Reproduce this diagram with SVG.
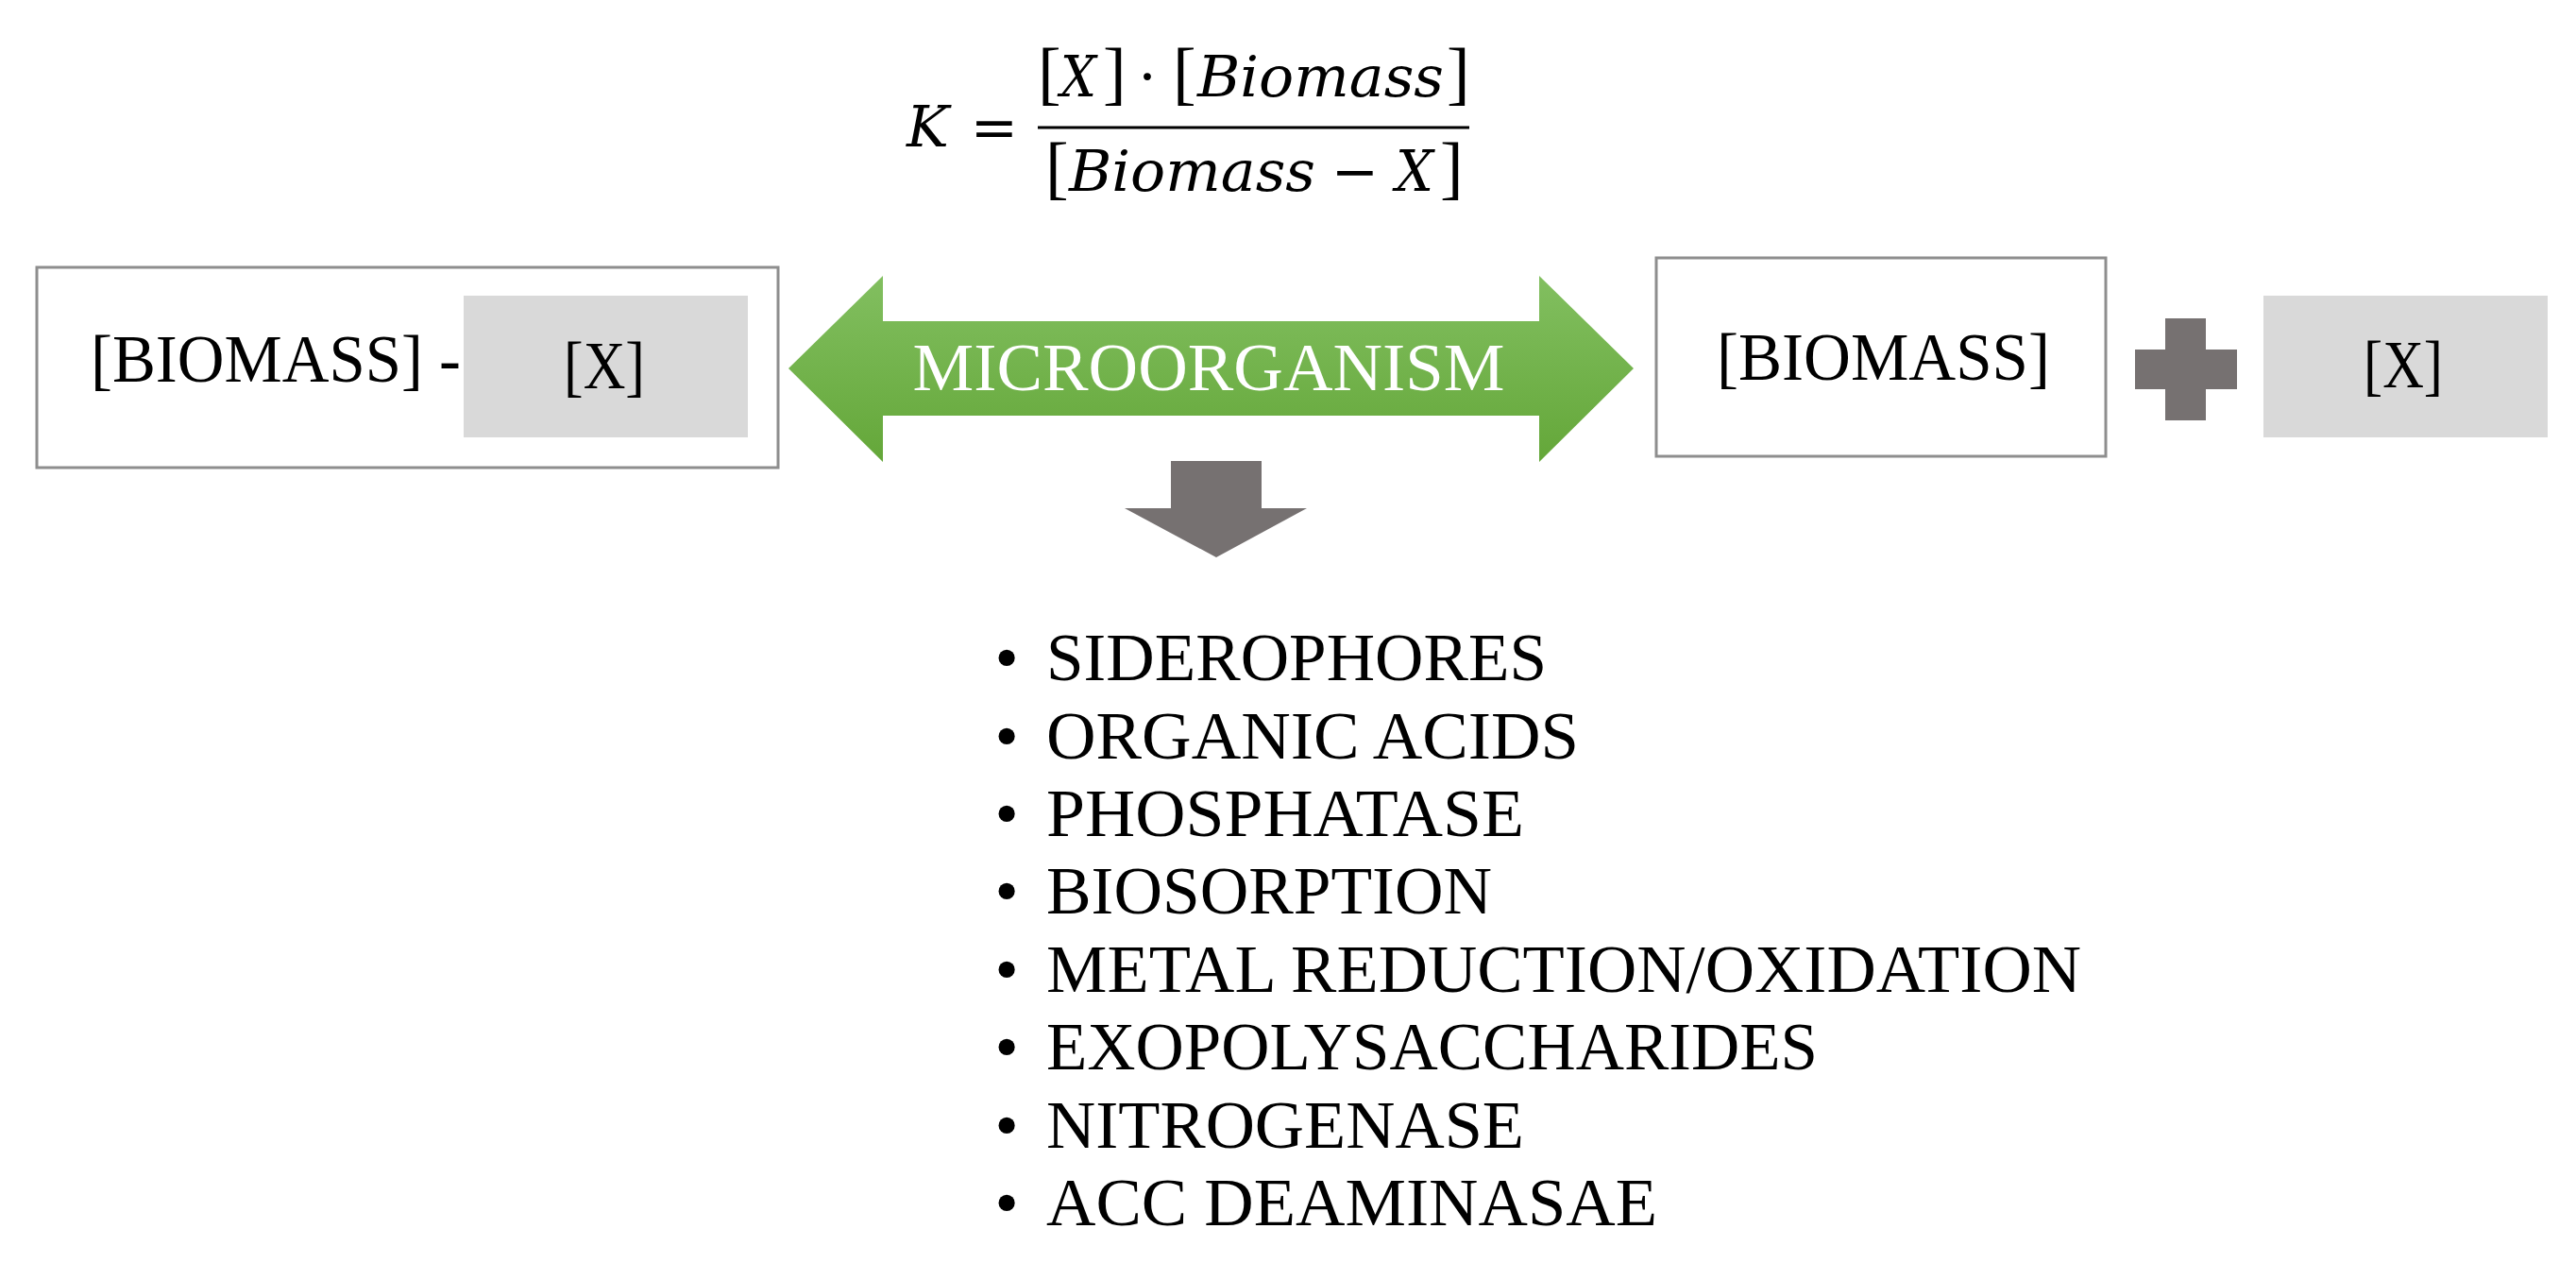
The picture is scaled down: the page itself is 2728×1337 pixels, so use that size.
<svg xmlns="http://www.w3.org/2000/svg" width="2728" height="1337" viewBox="0 0 2728 1337">
<style>
.t{font-family:"Liberation Serif","Times New Roman",serif;font-size:72px;fill:#000}
.m{font-family:"DejaVu Serif","Liberation Serif",serif;font-size:60px;fill:#000}
.br{font-family:"Liberation Serif","Times New Roman",serif;font-size:74px;fill:#000}
.mi{font-style:italic}
.box{fill:#fff;stroke:#8e8e8e;stroke-width:3}
.gray{fill:#d9d9d9}
.dark{fill:#767171}
</style>
<defs>
<linearGradient id="g" x1="0" y1="0" x2="0" y2="1">
<stop offset="0" stop-color="#82bf60"/>
<stop offset="1" stop-color="#64a739"/>
</linearGradient>
</defs>
<rect width="2728" height="1337" fill="#fff"/>
<g id="formula">
<text class="m mi" x="960" y="155">K</text>
<text class="m" x="1053" y="155" text-anchor="middle">=</text>
<text class="br" x="1099" y="102">[</text>
<text class="m mi" x="1123" y="102" textLength="38" lengthAdjust="spacingAndGlyphs">X</text>
<text class="br" x="1168" y="102">]</text>
<text class="m" x="1215" y="102" text-anchor="middle">·</text>
<text class="br" x="1242" y="102">[</text>
<text class="m mi" x="1268" y="102" textLength="261" lengthAdjust="spacingAndGlyphs">Biomass</text>
<text class="br" x="1532" y="102">]</text>
<line x1="1099" y1="135" x2="1556" y2="135" stroke="#000" stroke-width="3"/>
<text class="br" x="1107" y="202">[</text>
<text class="m mi" x="1132" y="202" textLength="261" lengthAdjust="spacingAndGlyphs">Biomass</text>
<text class="m" x="1435" y="202" text-anchor="middle">−</text>
<text class="m mi" x="1478" y="202" textLength="40" lengthAdjust="spacingAndGlyphs">X</text>
<text class="br" x="1525" y="202">]</text>
</g>
<g id="connectors">
<path id="double-arrow" d="M835,390 L935,292 L935,340 L1630,340 L1630,292 L1730,390 L1630,489 L1630,440 L935,440 L935,489 Z" fill="url(#g)"/>
<text class="t" x="1280" y="413" text-anchor="middle" style="fill:#fff" textLength="627" lengthAdjust="spacingAndGlyphs">MICROORGANISM</text>
<path id="down-arrow" class="dark" d="M1240,488 L1336,488 L1336,538 L1384,538 L1288,590 L1191,538 L1240,538 Z"/>
</g>
<g id="left-node">
<rect class="box" x="39" y="283" width="785" height="212"/>
<rect class="gray" x="491" y="313" width="301" height="150"/>
<text class="t" x="96" y="404" textLength="392" lengthAdjust="spacingAndGlyphs">[BIOMASS] -</text>
<text class="t" x="597" y="411" textLength="86" lengthAdjust="spacingAndGlyphs">[X]</text>
</g>
<g id="right-node">
<rect class="box" x="1754" y="273" width="476" height="210"/>
<text class="t" x="1818" y="402" textLength="353" lengthAdjust="spacingAndGlyphs">[BIOMASS]</text>
</g>
<g id="plus">
<path class="dark" d="M2293,337 L2336,337 L2336,370 L2369,370 L2369,412 L2336,412 L2336,445 L2293,445 L2293,412 L2261,412 L2261,370 L2293,370 Z"/>
</g>
<g id="x-node">
<rect class="gray" x="2397" y="313" width="301" height="150"/>
<text class="t" x="2503" y="410" textLength="84" lengthAdjust="spacingAndGlyphs">[X]</text>
</g>
<g id="list">
<text class="t" x="1066" y="720" text-anchor="middle">•</text>
<text class="t" x="1108" y="720" textLength="530" lengthAdjust="spacingAndGlyphs">SIDEROPHORES</text>
<text class="t" x="1066" y="803" text-anchor="middle">•</text>
<text class="t" x="1108" y="803" textLength="564" lengthAdjust="spacingAndGlyphs">ORGANIC ACIDS</text>
<text class="t" x="1066" y="885" text-anchor="middle">•</text>
<text class="t" x="1108" y="885" textLength="506" lengthAdjust="spacingAndGlyphs">PHOSPHATASE</text>
<text class="t" x="1066" y="967" text-anchor="middle">•</text>
<text class="t" x="1108" y="967" textLength="472" lengthAdjust="spacingAndGlyphs">BIOSORPTION</text>
<text class="t" x="1066" y="1050" text-anchor="middle">•</text>
<text class="t" x="1108" y="1050" textLength="1096" lengthAdjust="spacingAndGlyphs">METAL REDUCTION/OXIDATION</text>
<text class="t" x="1066" y="1132" text-anchor="middle">•</text>
<text class="t" x="1108" y="1132" textLength="817" lengthAdjust="spacingAndGlyphs">EXOPOLYSACCHARIDES</text>
<text class="t" x="1066" y="1215" text-anchor="middle">•</text>
<text class="t" x="1108" y="1215" textLength="506" lengthAdjust="spacingAndGlyphs">NITROGENASE</text>
<text class="t" x="1066" y="1297" text-anchor="middle">•</text>
<text class="t" x="1108" y="1297" textLength="647" lengthAdjust="spacingAndGlyphs">ACC DEAMINASAE</text>
</g>
</svg>
